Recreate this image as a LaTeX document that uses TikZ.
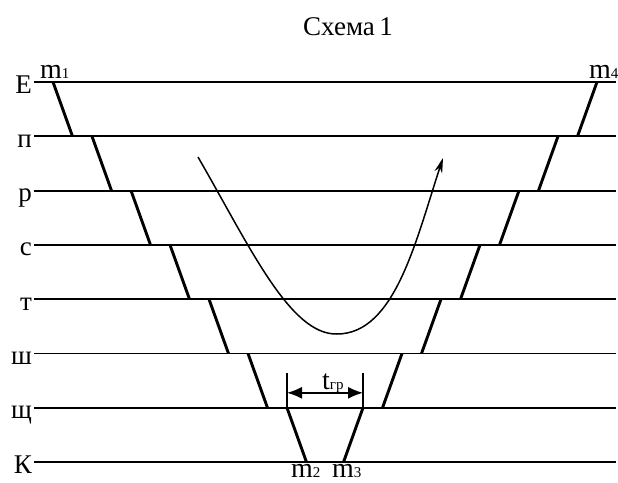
\documentclass[tikz,border=0pt]{standalone}
\usepackage{fontspec}
\setmainfont{Liberation Serif}
\usetikzlibrary{arrows.meta,calc}
\tikzset{
  level-line/.style={line width=1.9pt},
  slope-line/.style={line width=2.9pt},
  flow-arrow/.style={-{Stealth[length=15pt,width=8pt]},line width=1.5pt},
  dim-arrow/.style={{Latex[length=15pt,width=12pt]}-{Latex[length=15pt,width=12pt]},line width=1.6pt},
  dim-tick/.style={line width=1.6pt},
  level-label/.style={anchor=base east,inner sep=0pt,font=\fontsize{27}{27}\selectfont},
  mark-label/.style={anchor=base west,inner sep=0pt,font=\fontsize{28}{28}\selectfont},
}
\newcommand{\smidx}[1]{{\fontsize{15}{15}\selectfont #1}}

\begin{document}
\begin{tikzpicture}[x=1pt,y=-1pt]
  \useasboundingbox (0,0) rectangle (618,482);
  \node[anchor=base,inner sep=0pt,font=\fontsize{27}{27}\selectfont] (title) at (348,35) {Схема\,1};
  % levels
  \foreach \name [count=\i from 0] in {Е,п,р,с,т,ш,щ,К}{
    \coordinate (s\i) at (34,82+54.3*\i);
    \coordinate (e\i) at (616,82+54.3*\i);
    \node[level-label] (lbl\i) at ($(s\i)+(-2,11)$) {\name};
    \draw[level-line] (s\i) -- (e\i);
  }
  % steps, left and right
  \foreach \i in {0,...,6}{
    \coordinate (la\i) at (53+39*\i,82+54.3*\i);
    \coordinate (lb\i) at (72.5+39*\i,136.3+54.3*\i);
    \coordinate (ra\i) at (597-39*\i,82+54.3*\i);
    \coordinate (rb\i) at (577.5-39*\i,136.3+54.3*\i);
    \draw[slope-line] (la\i) -- (lb\i);
    \draw[slope-line] (ra\i) -- (rb\i);
  }
  \node[mark-label] (m1) at (40,78) {m\smidx{1}};
  \node[mark-label] (m4) at (589,78) {m\smidx{4}};
  \node[mark-label] (m2) at (291,477) {m\smidx{2}};
  \node[mark-label] (m3) at (332,477) {m\smidx{3}};
  % t_gr
  \coordinate (dl) at ($(la6)+(0,-35)$);
  \coordinate (dr) at ($(ra6)+(0,-35)$);
  \coordinate (al) at ($(la6)+(0,-15)$);
  \coordinate (ar) at ($(ra6)+(0,-15)$);
  \draw[dim-tick] (la6) -- (dl);
  \draw[dim-tick] (ra6) -- (dr);
  \draw[dim-arrow] (al) -- (ar);
  \node[mark-label] (tgr) at (322,389) {t\smidx{гр}};
  % flow
  \coordinate (cs) at (198,157);
  \coordinate (cb) at (337,334);
  \coordinate (ce) at (443,158);
  \draw[flow-arrow] (cs) .. controls (250,247) and (290,335) .. (cb)
    .. controls (395,334) and (416,240) .. (ce);
\end{tikzpicture}
\end{document}
